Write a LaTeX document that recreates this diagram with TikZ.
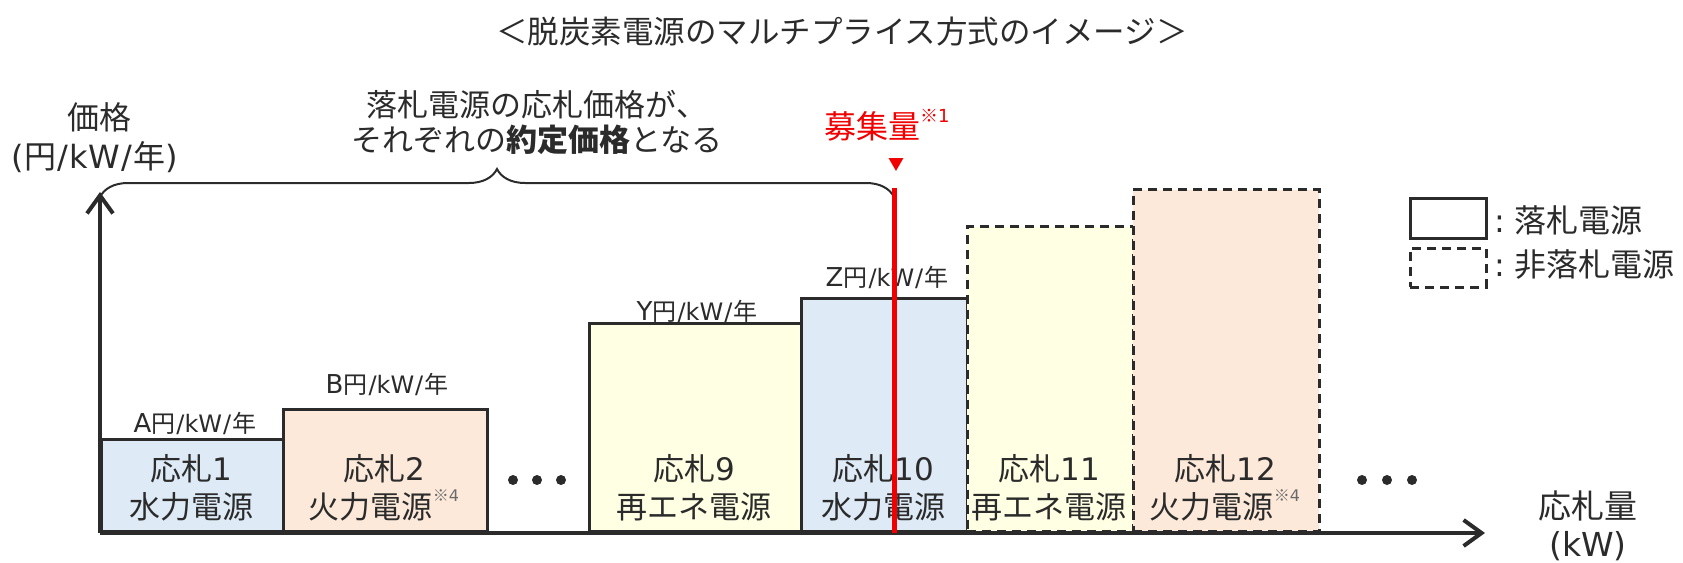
\documentclass[tikz,border=0pt]{standalone}
\usepackage{fontspec}
\setmainfont{Noto Sans CJK JP}
\newfontfamily\lat{DejaVu Sans}
\usetikzlibrary{arrows.meta,decorations.pathreplacing}
\definecolor{tx}{HTML}{2B2B2B}
\definecolor{subtx}{HTML}{6A6A6A}
\definecolor{fblue}{HTML}{DEEBF7}
\definecolor{fpeach}{HTML}{FCE9DA}
\definecolor{fyel}{HTML}{FFFFE3}
\definecolor{myred}{HTML}{F00000}
\newcommand{\sfour}{\raisebox{0.55em}{\fontsize{16}{16}\selectfont\color{subtx}※\lat 4}}
\newcommand{\pricetxt}[1]{{\fontsize{26}{30}\lat #1}{\fontsize{24}{30}\selectfont 円\lat\kern1pt/kW\kern1pt/\kern1pt\rmfamily 年}}
\begin{document}
\begin{tikzpicture}[x=1pt,y=-1pt,
  bar/.style={draw=tx, line width=3pt, inner sep=0pt, anchor=south west},
  lost/.style={bar, dash pattern=on 9pt off 6pt, line width=2.6pt},
  lbl/.style={text=tx, font=\fontsize{31}{38}\selectfont, align=center, inner sep=0pt},
  big/.style={text=tx, font=\fontsize{31}{35}\selectfont, align=center, inner sep=0pt},
  price/.style={text=tx, inner sep=0pt},
  dot/.style={circle, fill=tx, inner sep=0pt, minimum size=10pt},
  axis/.style={draw=tx, line width=4pt, -{Straight Barb[length=18pt,width=26pt]}}
]
\useasboundingbox (0,0) rectangle (1683,562);

% title
\node[big, font=\fontsize{31.5}{36}\selectfont] (title) at (842,32) {＜脱炭素電源のマルチプライス方式のイメージ＞};

% bars
\node[bar, fill=fblue,  minimum width=182pt, minimum height=92pt]  (b1)  at (100,533) {};
\node[bar, fill=fpeach, minimum width=204pt, minimum height=122pt] (b2)  at (282,533) {};
\node[bar, fill=fyel,   minimum width=212pt, minimum height=208pt] (b9)  at (588,533) {};
\node[bar, fill=fblue,  minimum width=166pt, minimum height=233pt] (b10) at (800,533) {};
\node[lost, fill=fyel,  minimum width=166pt, minimum height=305pt] (b11) at (966,533) {};
\node[lost, fill=fpeach,minimum width=186pt, minimum height=342pt] (b12) at (1132,533) {};

% price labels
\node[price] (pA) at (195,423) {\pricetxt{A}};
\node[price] (pB) at (387,384) {\pricetxt{B}};
\node[price] (pY) at (697,311) {\pricetxt{Y}};
\node[price] (pZ) at (887,277) {\pricetxt{Z}};

% bar labels
\node[lbl] (l1)  at (191,488)  {応札{\lat 1}\\水力電源};
\node[lbl] (l2)  at (384,488)  {応札{\lat 2}\\火力電源\sfour};
\node[lbl] (l9)  at (694,488)  {応札{\lat 9}\\再エネ電源};
\node[lbl] (l10) at (883,488)  {応札{\lat 10}\\水力電源};
\node[lbl] (l11) at (1049,488) {応札{\lat 11}\\再エネ電源};
\node[lbl] (l12) at (1225,488) {応札{\lat 12}\\火力電源\sfour};

% dots
\node[dot] (d1) at (513,480) {};
\node[dot] (d2) at (537,480) {};
\node[dot] (d3) at (561,480) {};
\node[dot] (d4) at (1362,480) {};
\node[dot] (d5) at (1387,480) {};
\node[dot] (d6) at (1412,480) {};

% axes
\coordinate (O) at (100,533);
\coordinate (yT) at (100,192);
\coordinate (xT) at (1485,533);
\draw[axis] (O) -- (yT);
\draw[axis] (O) -- (xT);
\node[big, font=\fontsize{32}{36}\selectfont] (ylab1) at (99,117) {価格};
\node[big, font=\fontsize{32}{36}\selectfont] (ylab2) at (95,157) {{\lat (}円{\lat\kern1.5pt/\kern1pt kW\kern1.5pt/\kern1.5pt}年{\lat )}};
\node[big, font=\fontsize{33}{38}\selectfont] (xlab) at (1588,526) {応札量\\{\lat (kW)}};

% brace
\coordinate (bl) at (100,197);
\coordinate (br) at (894,197);
\draw[tx, line width=2pt, decorate, decoration={brace, amplitude=28pt}] (bl) -- (br);
\node[big] (btext) at (537,122) {落札電源の応札価格が、\\それぞれの\textbf{約定価格}となる};

% red line
\coordinate (rt) at (894,188);
\coordinate (rb) at (894,533);
\draw[myred, line width=5pt] (rt) -- (rb);
\node[text=myred, inner sep=0pt, font=\fontsize{16}{16}\selectfont] (tri) at (896,165) {▼};
\node[text=myred, inner sep=0pt, anchor=west, font=\fontsize{32}{34}\selectfont] (boshu) at (824,125) {募集量\raisebox{0.5em}{\fontsize{18}{18}\selectfont ※\lat 1}};

% legend
\node[bar, fill=white, anchor=north west, minimum width=76pt, minimum height=40pt] (lg1) at (1409,197) {};
\node[lost, fill=white, anchor=north west, minimum width=76pt, minimum height=39pt] (lg2) at (1409,247) {};
\node[big, anchor=west, font=\fontsize{32}{34}\selectfont] (lt1) at (1494,220) {{\lat :}\kern9pt 落札電源};
\node[big, anchor=west, font=\fontsize{32}{34}\selectfont] (lt2) at (1494,265) {{\lat :}\kern9pt 非落札電源};
\end{tikzpicture}
\end{document}
